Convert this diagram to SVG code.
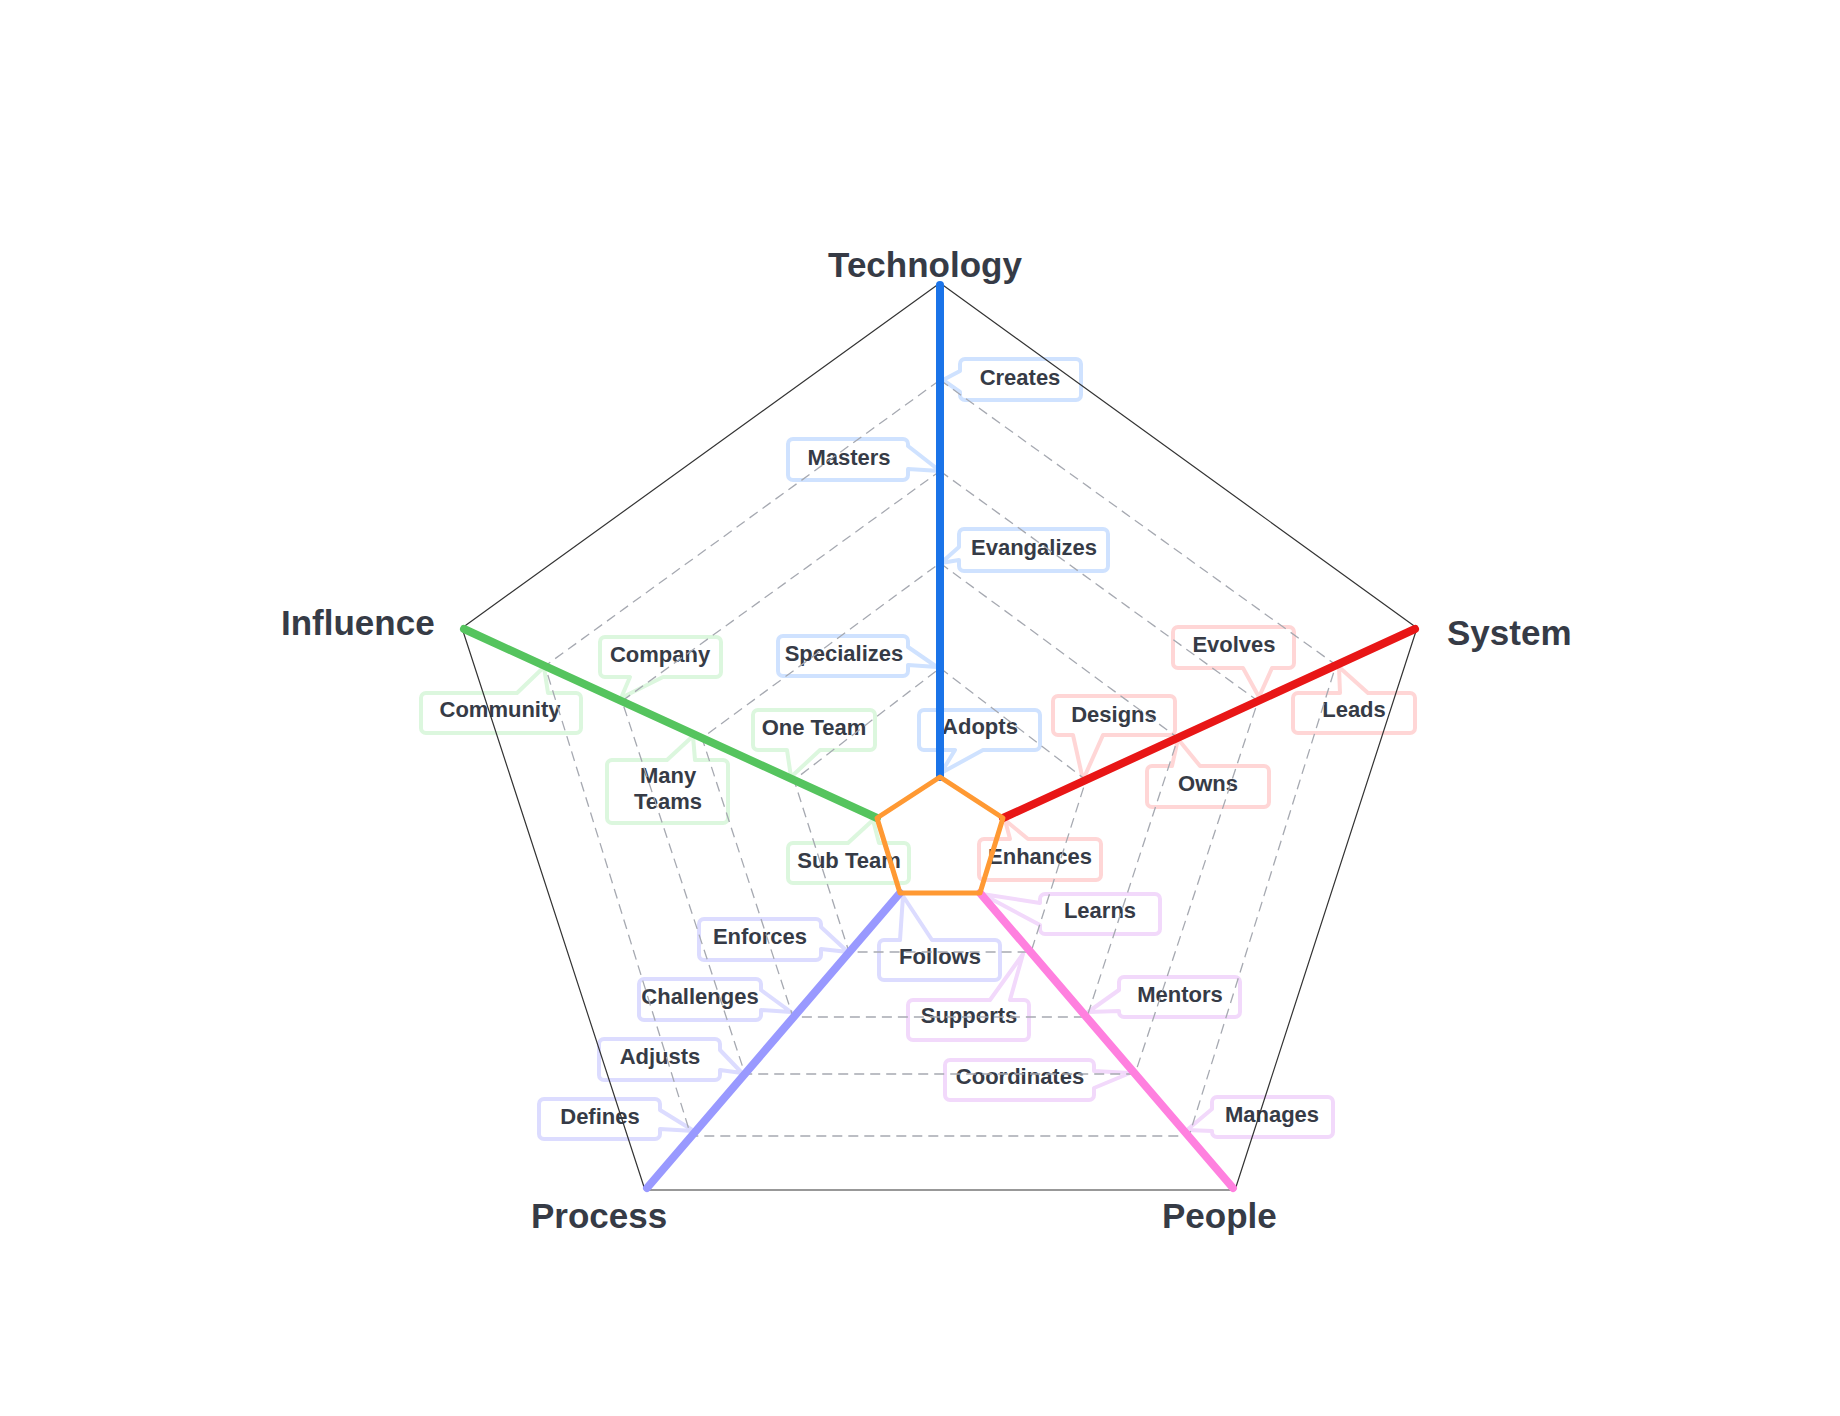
<svg xmlns="http://www.w3.org/2000/svg" width="1840" height="1416" viewBox="0 0 1840 1416">
<style>
.cb{fill:none;stroke-width:4;stroke-linejoin:round}
.cbl{stroke:#cfe2ff}.cr{stroke:#ffd6d6}.cg{stroke:#dcf7de}.cp{stroke:#dcdcff}.ck{stroke:#f2d9fb}
.t{font-family:"Liberation Sans",Arial,sans-serif;font-weight:bold;font-size:22px;fill:#363b46;text-anchor:middle}
.ax{font-family:"Liberation Sans",Arial,sans-serif;font-weight:bold;font-size:35px;fill:#363b46}
.dash{fill:none;stroke:#a6a9b1;stroke-width:1.3;stroke-dasharray:10 6}
.outer{fill:none;stroke:#333;stroke-width:1.2;stroke-linejoin:round}
.axis{stroke-width:8;stroke-linecap:round}
</style>
<rect width="1840" height="1416" fill="#fff"/>

<g id="nodes">
<g id="n-creates"><path class="cb cbl" d="M965,359 H1076 A5,5 0 0 1 1081,364 V395 A5,5 0 0 1 1076,400 H965 A5,5 0 0 1 960,395 V392 L943,380 L960,371 V364 A5,5 0 0 1 965,359 Z"/><text class="t" x="1020" y="385">Creates</text></g>
<g id="n-masters"><path class="cb cbl" d="M793,439 H903 A5,5 0 0 1 908,444 V446 L940,471 L908,469 V475 A5,5 0 0 1 903,480 H793 A5,5 0 0 1 788,475 V444 A5,5 0 0 1 793,439 Z"/><text class="t" x="849" y="465">Masters</text></g>
<g id="n-evangalizes"><path class="cb cbl" d="M964,529 H1103 A5,5 0 0 1 1108,534 V566 A5,5 0 0 1 1103,571 H964 A5,5 0 0 1 959,566 V560 L941,563 L959,547 V534 A5,5 0 0 1 964,529 Z"/><text class="t" x="1034" y="555">Evangalizes</text></g>
<g id="n-specializes"><path class="cb cbl" d="M783,636 H903 A5,5 0 0 1 908,641 V647 L937,667 L908,665 V671 A5,5 0 0 1 903,676 H783 A5,5 0 0 1 778,671 V641 A5,5 0 0 1 783,636 Z"/><text class="t" x="844" y="661">Specializes</text></g>
<g id="n-adopts"><path class="cb cbl" d="M924,710 H1035 A5,5 0 0 1 1040,715 V745 A5,5 0 0 1 1035,750 H983 L941,773 L955,750 H924 A5,5 0 0 1 919,745 V715 A5,5 0 0 1 924,710 Z"/><text class="t" x="980" y="734">Adopts</text></g>

<g id="n-designs"><path class="cb cr" d="M1058,696 H1170 A5,5 0 0 1 1175,701 V730 A5,5 0 0 1 1170,735 H1103 L1083,780 L1073,735 H1058 A5,5 0 0 1 1053,730 V701 A5,5 0 0 1 1058,696 Z"/><text class="t" x="1114" y="722">Designs</text></g>
<g id="n-owns"><path class="cb cr" d="M1152,766 H1172 L1178,739 L1200,766 H1264 A5,5 0 0 1 1269,771 V802 A5,5 0 0 1 1264,807 H1152 A5,5 0 0 1 1147,802 V771 A5,5 0 0 1 1152,766 Z"/><text class="t" x="1208" y="791">Owns</text></g>
<g id="n-evolves"><path class="cb cr" d="M1178,627 H1289 A5,5 0 0 1 1294,632 V663 A5,5 0 0 1 1289,668 H1272 L1259,697 L1243,668 H1178 A5,5 0 0 1 1173,663 V632 A5,5 0 0 1 1178,627 Z"/><text class="t" x="1234" y="652">Evolves</text></g>
<g id="n-leads"><path class="cb cr" d="M1298,693 H1340 L1339,667 L1368,693 H1410 A5,5 0 0 1 1415,698 V728 A5,5 0 0 1 1410,733 H1298 A5,5 0 0 1 1293,728 V698 A5,5 0 0 1 1298,693 Z"/><text class="t" x="1354" y="717">Leads</text></g>
<g id="n-enhances"><path class="cb cr" d="M984,839 H1010 L1005,820 L1028,839 H1096 A5,5 0 0 1 1101,844 V875 A5,5 0 0 1 1096,880 H984 A5,5 0 0 1 979,875 V844 A5,5 0 0 1 984,839 Z"/><text class="t" x="1040" y="864">Enhances</text></g>

<g id="n-learns"><path class="cb ck" d="M1045,894 H1155 A5,5 0 0 1 1160,899 V929 A5,5 0 0 1 1155,934 H1045 A5,5 0 0 1 1040,929 V925 L982,894 L1040,903 V899 A5,5 0 0 1 1045,894 Z"/><text class="t" x="1100" y="918">Learns</text></g>
<g id="n-mentors"><path class="cb ck" d="M1124,977 H1235 A5,5 0 0 1 1240,982 V1012 A5,5 0 0 1 1235,1017 H1124 A5,5 0 0 1 1119,1012 V1011 L1088,1012 L1119,990 V982 A5,5 0 0 1 1124,977 Z"/><text class="t" x="1180" y="1002">Mentors</text></g>
<g id="n-coordinates"><path class="cb ck" d="M950,1060 H1089 A5,5 0 0 1 1094,1065 V1071 L1130,1073 L1094,1088 V1095 A5,5 0 0 1 1089,1100 H950 A5,5 0 0 1 945,1095 V1065 A5,5 0 0 1 950,1060 Z"/><text class="t" x="1020" y="1084">Coordinates</text></g>
<g id="n-manages"><path class="cb ck" d="M1217,1097 H1328 A5,5 0 0 1 1333,1102 V1132 A5,5 0 0 1 1328,1137 H1217 A5,5 0 0 1 1212,1132 V1131 L1187,1130 L1212,1109 V1102 A5,5 0 0 1 1217,1097 Z"/><text class="t" x="1272" y="1122">Manages</text></g>
<g id="n-supports"><path class="cb ck" d="M913,1000 H990 L1023,954 L1010,1000 H1024 A5,5 0 0 1 1029,1005 V1035 A5,5 0 0 1 1024,1040 H913 A5,5 0 0 1 908,1035 V1005 A5,5 0 0 1 913,1000 Z"/><text class="t" x="969" y="1023">Supports</text></g>

<g id="n-follows"><path class="cb cp" d="M884,940 H900 L903,896 L932,940 H995 A5,5 0 0 1 1000,945 V975 A5,5 0 0 1 995,980 H884 A5,5 0 0 1 879,975 V945 A5,5 0 0 1 884,940 Z"/><text class="t" x="940" y="964">Follows</text></g>
<g id="n-enforces"><path class="cb cp" d="M704,919 H816 A5,5 0 0 1 821,924 V927 L848,952 L821,949 V955 A5,5 0 0 1 816,960 H704 A5,5 0 0 1 699,955 V924 A5,5 0 0 1 704,919 Z"/><text class="t" x="760" y="944">Enforces</text></g>
<g id="n-challenges"><path class="cb cp" d="M644,979 H756 A5,5 0 0 1 761,984 V990 L791,1012 L761,1010 V1015 A5,5 0 0 1 756,1020 H644 A5,5 0 0 1 639,1015 V984 A5,5 0 0 1 644,979 Z"/><text class="t" x="700" y="1004">Challenges</text></g>
<g id="n-adjusts"><path class="cb cp" d="M604,1039 H715 A5,5 0 0 1 720,1044 V1050 L742,1073 L720,1070 V1075 A5,5 0 0 1 715,1080 H604 A5,5 0 0 1 599,1075 V1044 A5,5 0 0 1 604,1039 Z"/><text class="t" x="660" y="1064">Adjusts</text></g>
<g id="n-defines"><path class="cb cp" d="M544,1099 H655 A5,5 0 0 1 660,1104 V1110 L694,1131 L660,1129 V1134 A5,5 0 0 1 655,1139 H544 A5,5 0 0 1 539,1134 V1104 A5,5 0 0 1 544,1099 Z"/><text class="t" x="600" y="1124">Defines</text></g>

<g id="n-subteam"><path class="cb cg" d="M793,843 H848 L873,820 L879,843 H904 A5,5 0 0 1 909,848 V878 A5,5 0 0 1 904,883 H793 A5,5 0 0 1 788,878 V848 A5,5 0 0 1 793,843 Z"/><text class="t" x="849" y="868">Sub Team</text></g>
<g id="n-oneteam"><path class="cb cg" d="M758,710 H870 A5,5 0 0 1 875,715 V745 A5,5 0 0 1 870,750 H820 L791,777 L787,750 H758 A5,5 0 0 1 753,745 V715 A5,5 0 0 1 758,710 Z"/><text class="t" x="814" y="735">One Team</text></g>
<g id="n-manyteams"><path class="cb cg" d="M612,760 H667 L693,736 L695,760 H723 A5,5 0 0 1 728,765 V818 A5,5 0 0 1 723,823 H612 A5,5 0 0 1 607,818 V765 A5,5 0 0 1 612,760 Z"/><text class="t" x="668" y="783">Many</text><text class="t" x="668" y="809">Teams</text></g>
<g id="n-company"><path class="cb cg" d="M605,637 H716 A5,5 0 0 1 721,642 V672 A5,5 0 0 1 716,677 H663 L621,698 L630,677 H605 A5,5 0 0 1 600,672 V642 A5,5 0 0 1 605,637 Z"/><text class="t" x="660" y="662">Company</text></g>
<g id="n-community"><path class="cb cg" d="M426,693 H517 L544,667 L548,693 H576 A5,5 0 0 1 581,698 V728 A5,5 0 0 1 576,733 H426 A5,5 0 0 1 421,728 V698 A5,5 0 0 1 426,693 Z"/><text class="t" x="500" y="717">Community</text></g>
</g>

<g id="grid">
<polygon class="dash" points="940,380 1336,665 1189,1136 691,1136 545,666"/>
<polygon class="dash" points="940,471 1258,701 1135,1074 745,1074 622,701"/>
<polygon class="dash" points="940,563 1178,738 1087,1017 793,1017 702,738"/>
<polygon class="dash" points="940,668 1086,780 1031,952 849,952 794,780"/>
<polygon class="dash" points="940,777 1003,818 980,893 900,893 877,818"/>
<polygon class="outer" points="940,283 1417,628 1235,1190 645,1190 462,628"/>
</g>

<g id="connectors">
<line class="axis" x1="940" y1="285" x2="940" y2="777" stroke="#1a73e8"/>
<line class="axis" x1="1415" y1="629" x2="1003" y2="818" stroke="#e81616"/>
<line class="axis" x1="1233" y1="1188" x2="980" y2="893" stroke="#ff80df"/>
<line class="axis" x1="647" y1="1188" x2="900" y2="893" stroke="#9999ff"/>
<line class="axis" x1="464" y1="629" x2="877" y2="818" stroke="#55c45e"/>
<polygon points="940,777 1003,818 980,893 900,893 877,818" fill="none" stroke="#ff9933" stroke-width="5" stroke-linejoin="round"/>
</g>

<g id="labels">
<text class="ax" x="925" y="277" text-anchor="middle">Technology</text>
<text class="ax" x="1447" y="645">System</text>
<text class="ax" x="281" y="635">Influence</text>
<text class="ax" x="531" y="1228">Process</text>
<text class="ax" x="1162" y="1228">People</text>
</g>
</svg>
